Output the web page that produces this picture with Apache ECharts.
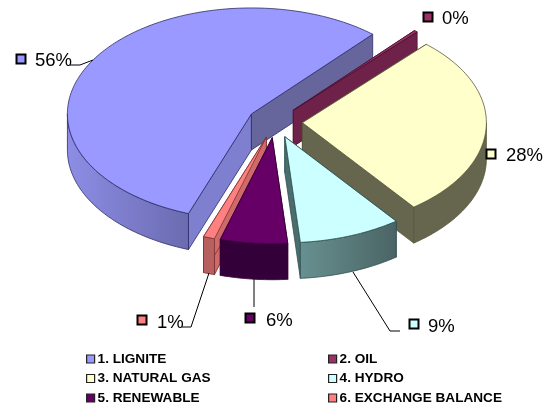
<!DOCTYPE html>
<html>
<head>
<meta charset="utf-8">
<style>html,body{margin:0;padding:0;background:#fff}</style>
<script src="https://cdn.jsdelivr.net/npm/echarts@6/dist/echarts.min.js"></script>
</head>
<body>
<div id="x1" style="width:544px;height:409px"></div>
<script>
var categories = ['1. LIGNITE', '2. OIL', '3. NATURAL GAS', '4. HYDRO', '5. RENEWABLE', '6. EXCHANGE BALANCE'];
var values = [55.9, 0.3, 27.9, 9.0, 5.9, 1.0];
var percentLabels = ['56%', '0%', '28%', '9%', '6%', '1%'];

var topColors = ['#9999ff', '#993366', '#ffffcc', '#ccffff', '#660066', '#ff8080'];
var wallLeft = ['#8d8de6', '#6e2249', '#66664f', '#689090', '#33003a', '#b86060'];
var wallRight = ['#6b6bb0', '#6e2249', '#66664f', '#4a6464', '#33003a', '#b86060'];
var cutStart = ['#66669c', '#6e2249', '#66664f', '#4a6e6e', '#33003a', '#d06a6a'];
var cutEnd = ['#7f7fcf', '#6e2249', '#66664f', '#4a6e6e', '#33003a', '#d06a6a'];
var edgeColors = ['#2c2c66', '#4a1030', '#55553a', '#2f4f4f', '#330033', '#7a3030'];

// pie projection
var cx = 275, cy = 122, rx = 184, ry = 106, depth = 36, explode = 0.149;
var startAngle = 110;

var labelPos = [[21, 59, 35, 61], [428, 17, 442, 19], [491, 154, 506, 156], [414, 324, 428, 327], [250, 318, 266, 321], [142, 320, 157, 323]];
var leaders = [
	[[70, 65], [80, 65], [93, 60]],
	[[254, 279], [254, 307]],
	[[353, 272], [390, 331], [400, 331]],
	[[182, 327], [191, 327], [209, 273]]
];

function $each(arr, fn) { for (var i = 0; i < arr.length; i++) fn(arr[i], i); }
function toRad(d) { return d * Math.PI / 180; }

function sliceAngles()
{
	var total = 0, a = startAngle, out = [];
	for (var i = 0; i < values.length; i++) total += values[i];
	for (var j = 0; j < values.length; j++) {
		var sweep = values[j] / total * 360;
		out.push([a, a + sweep]);
		a += sweep;
	}
	return out;
}
var angles = sliceAngles();

function makeItem(idx)
{
	return function (params, api) {
		var a0 = angles[idx][0], a1 = angles[idx][1];
		var mid = toRad((a0 + a1) / 2);
		var ox = cx + explode * rx * Math.cos(mid);
		var oy = cy + explode * ry * Math.sin(mid);
		function pt(deg, dz) {
			return [ox + rx * Math.cos(toRad(deg)), oy + ry * Math.sin(toRad(deg)) + dz];
		}
		var stroke = edgeColors[idx];
		var kids = [];
		function poly(points, fill) {
			kids.push({
				type: 'polygon',
				shape: { points: points },
				style: { fill: fill, stroke: stroke, lineWidth: 0.8 },
				silent: true
			});
		}
		// cut walls
		poly([[ox, oy], pt(a0, 0), pt(a0, depth), [ox, oy + depth]], cutEnd[idx]);
		poly([[ox, oy], pt(a1, 0), pt(a1, depth), [ox, oy + depth]], cutStart[idx]);
		// outer wall, only the front half shows
		for (var k = 0; k < 2; k++) {
			var from = Math.max(a0, k * 360), to = Math.min(a1, 180 + k * 360);
			if (to > from) {
				var wall = [], d;
				for (d = from; d < to; d += 1) wall.push(pt(d, 0));
				wall.push(pt(to, 0));
				for (d = to; d > from; d -= 1) wall.push(pt(d, depth));
				wall.push(pt(from, depth));
				poly(wall, new echarts.graphic.LinearGradient(0, 0, 1, 0, [
					{ offset: 0, color: wallLeft[idx] },
					{ offset: 1, color: wallRight[idx] }
				]));
			}
		}
		// top face
		var top = [[ox, oy]];
		for (var t = a0; t < a1; t += 1) top.push(pt(t, 0));
		top.push(pt(a1, 0));
		poly(top, topColors[idx]);
		return { type: 'group', children: kids };
	};
}

var drawOrder = [0, 1, 2, 5, 3, 4];
var series = [];
for (var s = 0; s < drawOrder.length; s++) {
	var n = drawOrder[s];
	series.push({
		type: 'custom',
		name: categories[n],
		coordinateSystem: 'none',
		renderItem: makeItem(n),
		itemStyle: { color: topColors[n] },
		data: [[values[n]]],
		z: 2 + s
	});
}

var graphicItems = [];
$each(percentLabels, function (txt, i) {
	var p = labelPos[i];
	graphicItems.push({
		type: 'rect',
		shape: { x: p[0] - 4.5, y: p[1] - 4.5, width: 9, height: 9 },
		style: { fill: topColors[i], stroke: '#000', lineWidth: 2 },
		z: 20
	});
	graphicItems.push({
		type: 'text',
		style: {
			x: p[2], y: p[3], text: txt, fill: '#000',
			font: '18.5px "Liberation Sans", Arial, sans-serif',
			textVerticalAlign: 'middle'
		},
		z: 20
	});
});
$each(leaders, function (l) {
	graphicItems.push({
		type: 'polyline',
		shape: { points: l },
		style: { fill: 'none', stroke: '#000', lineWidth: 1 },
		z: 19
	});
});

function legendAt(left, names)
{
	return {
		orient: 'vertical',
		left: left,
		top: 352,
		padding: 0,
		itemWidth: 8,
		itemHeight: 8,
		itemGap: 5.5,
		icon: 'rect',
		selectedMode: false,
		data: names,
		itemStyle: { borderColor: '#222', borderWidth: 1.2 },
		textStyle: {
			color: '#000',
			fontFamily: '"Liberation Sans", Arial, sans-serif',
			fontWeight: 'bold',
			fontSize: 13.6,
			padding: [0, 0, 0, -2]
		}
	};
}

var myChart = echarts.init(document.getElementById('x1'));
myChart.setOption({
	animation: false,
	backgroundColor: '#fff',
	legend: [
		legendAt(86, [categories[0], categories[2], categories[4]]),
		legendAt(328, [categories[1], categories[3], categories[5]])
	],
	graphic: { elements: graphicItems },
	series: series
});
</script>
</body>
</html>
